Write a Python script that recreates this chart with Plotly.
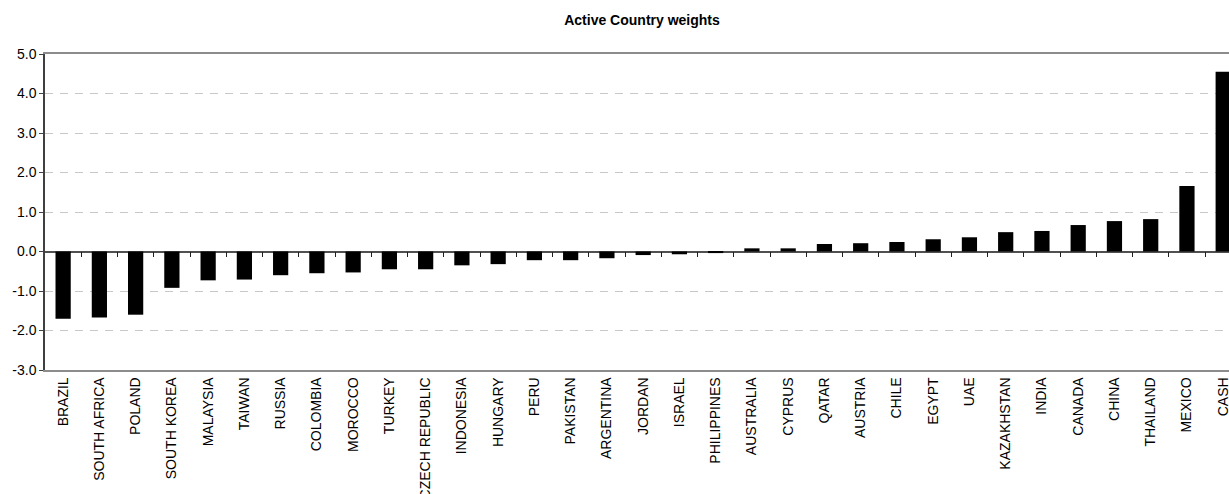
import plotly.graph_objects as go

# Active weight (%) by country, sorted from most underweight to most overweight
countries = [
    "BRAZIL", "SOUTH AFRICA", "POLAND", "SOUTH KOREA", "MALAYSIA", "TAIWAN",
    "RUSSIA", "COLOMBIA", "MOROCCO", "TURKEY", "CZECH REPUBLIC", "INDONESIA",
    "HUNGARY", "PERU", "PAKISTAN", "ARGENTINA", "JORDAN", "ISRAEL",
    "PHILIPPINES", "AUSTRALIA", "CYPRUS", "QATAR", "AUSTRIA", "CHILE",
    "EGYPT", "UAE", "KAZAKHSTAN", "INDIA", "CANADA", "CHINA", "THAILAND",
    "MEXICO", "CASH",
]
active_weights = [
    -1.70, -1.67, -1.60, -0.92, -0.73, -0.71,
    -0.60, -0.55, -0.53, -0.45, -0.45, -0.35,
    -0.32, -0.22, -0.22, -0.17, -0.09, -0.07,
    -0.04, 0.08, 0.08, 0.19, 0.21, 0.24,
    0.31, 0.36, 0.49, 0.52, 0.67, 0.77, 0.82,
    1.66, 4.55,
]
y_ticks = [-3, -2, -1, 0, 1, 2, 3, 4, 5]
y_tick_text = ["%.1f" % v for v in y_ticks]

FONT = "Liberation Sans, Arial, sans-serif"
x_range = [-0.5, 32.16]

fig = go.Figure()
fig.add_trace(go.Bar(
    x=countries,
    y=active_weights,
    marker=dict(color="#000000", line=dict(width=0)),
    width=0.42,
    showlegend=False,
    hoverinfo="x+y",
))

# Helper trace so the separator axis on the zero line is drawn
fig.add_trace(go.Scatter(
    x=[0], y=[0], xaxis="x2", mode="markers",
    marker=dict(opacity=0), showlegend=False, hoverinfo="skip",
))

fig.update_layout(
    width=1229,
    height=494,
    margin=dict(l=45, r=0, t=54, b=124, autoexpand=False),
    paper_bgcolor="#ffffff",
    plot_bgcolor="#ffffff",
    font=dict(family=FONT, size=14, color="#000000"),
    title=dict(
        text="<b>Active Country weights</b>",
        font=dict(family=FONT, size=14, color="#000000"),
        xref="container", yref="container",
        x=642 / 1229, y=1 - 20 / 494,
        xanchor="center", yanchor="middle",
    ),
    xaxis=dict(
        type="category",
        range=x_range,
        automargin=False,
        tickangle=-90,
        ticks="",
        showline=True,
        mirror=True,
        linecolor="#8c8c8c",
        linewidth=1.5,
        showgrid=False,
        tickfont=dict(family=FONT, size=14, color="#000000"),
    ),
    # Category separators hanging below the zero line
    xaxis2=dict(
        overlaying="x",
        anchor="free",
        position=(370 - 251) / 316,
        side="bottom",
        range=x_range,
        automargin=False,
        tickmode="array",
        tickvals=[i + 0.5 for i in range(len(countries) - 1)],
        ticks="outside",
        ticklen=5,
        tickwidth=1.3,
        tickcolor="#202020",
        showticklabels=False,
        showline=False,
        showgrid=False,
        zeroline=False,
    ),
    yaxis=dict(
        range=[-3, 5],
        automargin=False,
        tickmode="array",
        tickvals=y_ticks,
        ticktext=y_tick_text,
        ticks="outside",
        ticklen=4,
        tickcolor="#404040",
        showline=True,
        linecolor="#404040",
        linewidth=1.5,
        showgrid=True,
        gridcolor="#c8c8c8",
        griddash="8px,7px",
        gridwidth=1,
        zeroline=True,
        zerolinecolor="#505050",
        zerolinewidth=1.5,
        tickfont=dict(family=FONT, size=14, color="#000000"),
    ),
)

fig.write_html("out.html")
